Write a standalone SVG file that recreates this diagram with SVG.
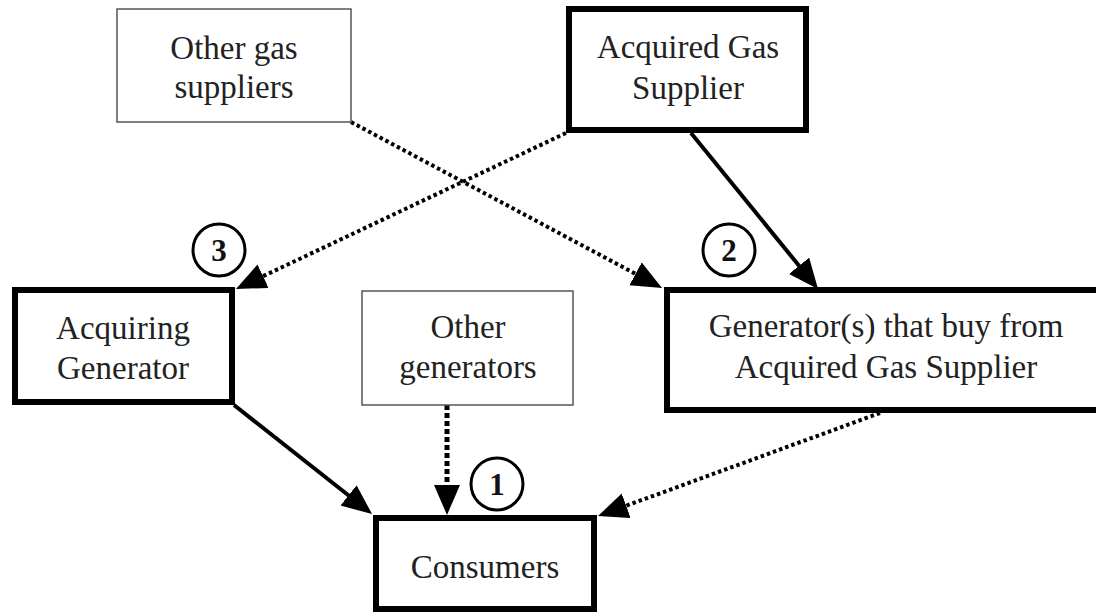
<svg xmlns="http://www.w3.org/2000/svg" width="1096" height="613" viewBox="0 0 1096 613">
<style>
.thin{fill:#fff;stroke:#555;stroke-width:1.5}
.thick{fill:#fff;stroke:#000;stroke-width:6}
.lbl{font-family:"Liberation Serif","Times New Roman",serif;font-size:33px;fill:#222;text-anchor:middle}
.num{font-family:"Liberation Serif","Times New Roman",serif;font-size:31px;font-weight:bold;fill:#111;text-anchor:middle}
.circ{fill:#fff;stroke:#000;stroke-width:3}
.solid{fill:none;stroke:#000;stroke-width:4}
.dot{fill:none;stroke:#000;stroke-width:4;stroke-dasharray:3.5 3}
.dash{fill:none;stroke:#000;stroke-width:5;stroke-dasharray:5 3}
</style>
<defs>
<marker id="arr" markerUnits="userSpaceOnUse" markerWidth="31" markerHeight="27" refX="20" refY="13" orient="auto">
<path d="M0,0 L30,13 L0,26 Z" fill="#000"/>
</marker>
</defs>
<rect width="1096" height="613" fill="#fff"/>
<g id="connectors">
<line class="dot" x1="351" y1="122" x2="653.2" y2="283.3" marker-end="url(#arr)"/>
<line class="dot" x1="566" y1="133" x2="245" y2="284.7" marker-end="url(#arr)"/>
<line class="solid" x1="691" y1="133" x2="811.7" y2="281.3" marker-end="url(#arr)"/>
<line class="solid" x1="234" y1="405" x2="364.2" y2="507.8" marker-end="url(#arr)"/>
<line class="dash" x1="447" y1="405" x2="447" y2="505" marker-end="url(#arr)"/>
<line class="dot" x1="880" y1="413" x2="607.4" y2="512.6" marker-end="url(#arr)"/>
</g>
<g id="other-gas-suppliers">
<rect class="thin" x="117" y="9" width="234" height="113"/>
<text class="lbl" x="234" y="59">Other gas</text>
<text class="lbl" x="234" y="98">suppliers</text>
</g>
<g id="acquired-gas-supplier">
<rect class="thick" x="569" y="9" width="237" height="121"/>
<text class="lbl" x="688" y="58">Acquired Gas</text>
<text class="lbl" x="688" y="99">Supplier</text>
</g>
<g id="acquiring-generator">
<rect class="thick" x="15" y="290" width="217" height="112"/>
<text class="lbl" x="123" y="339">Acquiring</text>
<text class="lbl" x="123" y="379">Generator</text>
</g>
<g id="other-generators">
<rect class="thin" x="362" y="291" width="211" height="114"/>
<text class="lbl" x="468" y="338">Other</text>
<text class="lbl" x="468" y="378">generators</text>
</g>
<g id="generators-buying">
<rect class="thick" x="667" y="290" width="440" height="120"/>
<text class="lbl" x="886" y="337">Generator(s) that buy from</text>
<text class="lbl" x="886" y="378">Acquired Gas Supplier</text>
</g>
<g id="consumers">
<rect class="thick" x="376" y="518" width="218" height="91"/>
<text class="lbl" x="485" y="578">Consumers</text>
</g>
<g id="marker-3">
<circle class="circ" cx="219" cy="250" r="26"/>
<text class="num" x="219" y="261">3</text>
</g>
<g id="marker-2">
<circle class="circ" cx="729" cy="250" r="26"/>
<text class="num" x="729" y="261">2</text>
</g>
<g id="marker-1">
<circle class="circ" cx="497" cy="484" r="26"/>
<text class="num" x="497" y="495">1</text>
</g>
</svg>
